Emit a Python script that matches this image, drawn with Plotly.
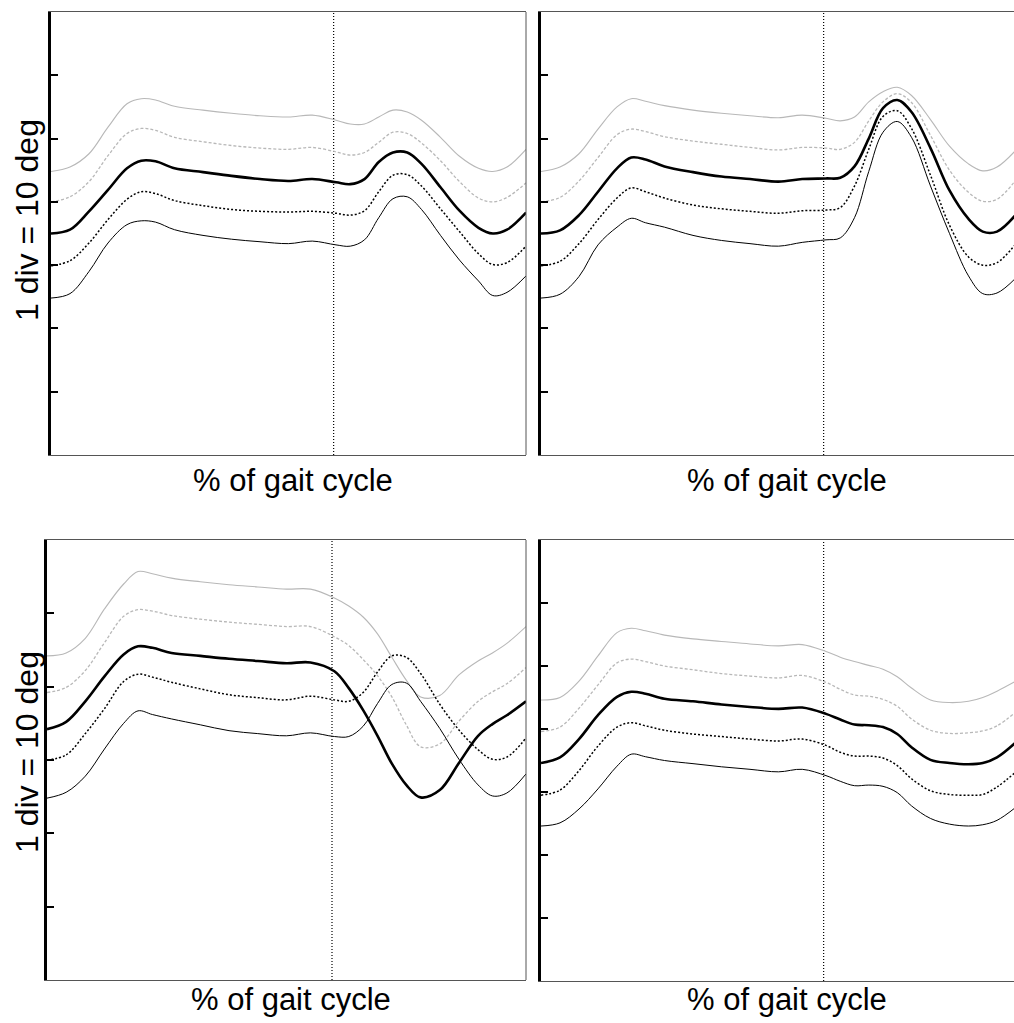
import plotly.graph_objects as go

# % of gait cycle sample points
gait_pct = [0, 4, 8, 12, 16, 19, 22, 26, 32, 38, 44, 50, 55, 60, 63, 66, 69, 72, 75, 78, 82, 86, 90, 93, 96, 100]
toe_off_pct = 59.5

# Panel 1 (top-left), degrees
p1_plus2sd = [44.8, 45.5, 47.6, 51.8, 55.5, 56.3, 56.1, 55.1, 54.5, 54.0, 53.6, 53.4, 53.7, 52.9, 52.3, 52.3, 53.4, 54.5, 54.2, 52.9, 50.2, 47.2, 45.3, 44.8, 45.5, 48.3]
p1_plus1sd = [40.0, 40.8, 43.2, 47.3, 50.8, 51.6, 51.3, 50.2, 49.5, 48.9, 48.5, 48.3, 48.6, 47.9, 47.4, 47.8, 49.4, 51.0, 50.8, 49.3, 46.5, 43.2, 40.6, 40.0, 40.7, 43.0]
p1_mean    = [35.0, 35.6, 38.5, 41.9, 45.3, 46.5, 46.4, 45.3, 44.7, 44.1, 43.6, 43.3, 43.6, 43.1, 42.8, 43.6, 46.3, 47.8, 47.8, 46.0, 42.3, 38.6, 35.9, 35.0, 35.6, 38.3]
p1_minus1sd = [29.9, 30.7, 33.5, 37.2, 40.4, 41.6, 41.3, 40.2, 39.4, 38.8, 38.5, 38.4, 38.5, 38.2, 37.9, 38.6, 41.6, 44.2, 44.3, 42.5, 38.9, 35.3, 31.8, 30.1, 30.4, 33.0]
p1_minus2sd = [24.8, 25.5, 29.0, 33.5, 36.4, 37.0, 36.8, 35.6, 34.7, 34.1, 33.7, 33.4, 33.8, 33.2, 33.0, 34.0, 37.5, 40.5, 40.8, 38.8, 34.7, 30.8, 27.5, 25.2, 25.7, 28.3]

# Panel 2 (top-right)
p2_plus2sd = [44.8, 45.5, 47.6, 51.5, 55.0, 56.3, 55.9, 55.2, 54.5, 54.0, 53.6, 53.3, 53.7, 53.2, 52.8, 53.4, 55.8, 57.4, 58.1, 56.8, 53.0, 48.8, 46.0, 44.9, 45.5, 48.2]
p2_plus1sd = [40.0, 40.7, 43.3, 47.0, 50.6, 51.5, 51.1, 50.3, 49.6, 49.1, 48.6, 48.2, 48.6, 48.5, 48.3, 49.4, 52.8, 55.8, 57.1, 55.7, 50.5, 45.0, 41.5, 40.1, 40.4, 43.5]
p2_mean    = [35.0, 35.5, 37.9, 41.6, 45.3, 47.0, 46.7, 45.6, 44.7, 44.0, 43.6, 43.2, 43.6, 43.7, 43.8, 45.6, 50.0, 54.8, 56.1, 54.2, 48.5, 41.8, 37.3, 35.3, 35.3, 38.0]
p2_minus1sd = [29.9, 30.6, 33.4, 37.2, 40.6, 42.2, 41.6, 40.6, 39.5, 38.9, 38.5, 38.2, 38.6, 38.7, 39.1, 42.5, 48.3, 53.5, 54.4, 51.6, 44.2, 36.3, 31.3, 30.0, 30.4, 33.4]
p2_minus2sd = [24.8, 25.4, 28.2, 33.2, 36.0, 37.4, 36.7, 36.0, 34.7, 33.9, 33.4, 33.0, 33.6, 34.0, 34.3, 37.5, 44.8, 51.0, 52.7, 50.2, 42.5, 35.0, 28.3, 25.5, 25.6, 28.0]

# Panel 3 (bottom-left)
p3_plus2sd = [44.2, 44.6, 46.6, 50.6, 54.0, 55.7, 55.4, 54.8, 54.3, 53.9, 53.6, 53.3, 53.3, 52.1, 51.0, 49.5, 47.2, 44.0, 40.9, 38.6, 38.8, 41.6, 43.5, 44.6, 45.9, 48.2]
p3_plus1sd = [39.2, 39.9, 42.2, 46.0, 49.6, 50.5, 50.3, 49.7, 49.2, 48.8, 48.5, 48.2, 48.2, 46.8, 45.6, 43.7, 41.5, 38.6, 34.8, 31.8, 32.2, 35.3, 38.0, 39.3, 40.4, 42.6]
p3_mean    = [34.2, 35.2, 38.0, 41.4, 44.4, 45.5, 45.3, 44.6, 44.2, 43.8, 43.5, 43.2, 43.3, 42.1, 39.8, 36.8, 33.3, 29.5, 26.6, 24.9, 25.9, 29.6, 33.3, 34.9, 36.1, 38.0]
p3_minus1sd = [30.0, 30.7, 33.6, 37.0, 40.7, 41.7, 41.3, 40.6, 39.7, 38.9, 38.5, 38.2, 38.7, 38.2, 38.0, 39.2, 42.0, 44.2, 44.0, 41.8, 37.6, 34.1, 31.4, 30.1, 30.4, 33.0]
p3_minus2sd = [24.8, 25.6, 27.8, 31.5, 35.0, 36.7, 36.2, 35.6, 34.8, 34.0, 33.6, 33.3, 33.7, 33.2, 33.2, 34.6, 37.7, 40.3, 40.5, 38.0, 34.3, 30.1, 26.6, 25.1, 25.5, 28.1]

# Panel 4 (bottom-right)
p4_plus2sd = [44.6, 45.0, 47.6, 51.6, 55.3, 56.0, 55.6, 54.9, 54.3, 53.9, 53.5, 53.2, 53.4, 52.3, 51.4, 50.7, 50.1, 49.5, 48.3, 46.5, 44.6, 44.2, 44.4, 45.0, 46.0, 47.6]
p4_plus1sd = [39.6, 40.3, 43.3, 47.0, 50.5, 51.1, 50.7, 50.0, 49.4, 48.8, 48.4, 48.1, 48.5, 47.4, 46.3, 45.4, 45.2, 44.7, 43.6, 41.6, 39.8, 39.3, 39.4, 39.7, 40.5, 42.7]
p4_mean    = [34.6, 35.5, 38.4, 42.2, 45.1, 45.9, 45.6, 44.8, 44.4, 43.9, 43.5, 43.2, 43.4, 42.4, 41.5, 40.7, 40.6, 40.3, 39.2, 37.1, 35.1, 34.6, 34.4, 34.6, 35.5, 37.9]
p4_minus1sd = [29.5, 30.3, 33.4, 37.3, 40.3, 41.0, 40.5, 39.8, 39.2, 38.8, 38.4, 38.1, 38.4, 37.4, 36.3, 35.7, 35.7, 35.4, 34.2, 32.1, 30.2, 29.6, 29.5, 29.6, 30.8, 33.2]
p4_minus2sd = [24.6, 25.1, 27.3, 30.5, 34.1, 36.0, 35.6, 35.0, 34.5, 34.0, 33.6, 33.2, 33.6, 32.6, 31.7, 31.0, 31.1, 30.9, 29.9, 27.8, 25.8, 24.9, 24.6, 24.8, 25.5, 27.6]

y_ranges = [70, 70, 60, 70]
x_label = "% of gait cycle"
y_label = "1 div = 10 deg"

W, H = 1014, 1023
# panel boxes in pixels: left, right, top, bottom
boxes = [(51, 526, 12, 455), (541, 1016, 12, 455), (47, 526, 540, 980), (541, 1016, 540, 981)]

panels = [
    (p1_plus2sd, p1_plus1sd, p1_mean, p1_minus1sd, p1_minus2sd),
    (p2_plus2sd, p2_plus1sd, p2_mean, p2_minus1sd, p2_minus2sd),
    (p3_plus2sd, p3_plus1sd, p3_mean, p3_minus1sd, p3_minus2sd),
    (p4_plus2sd, p4_plus1sd, p4_mean, p4_minus1sd, p4_minus2sd),
]

styles = [
    dict(color="#b8b8b8", width=1.1, dash="solid"),
    dict(color="#b8b8b8", width=1.3, dash="3px,2px"),
    dict(color="#000000", width=2.6, dash="solid"),
    dict(color="#000000", width=1.5, dash="2px,2px"),
    dict(color="#000000", width=1.0, dash="solid"),
]

fig = go.Figure()
layout = dict(width=W, height=H, margin=dict(l=0, r=0, t=0, b=0),
              paper_bgcolor="white", plot_bgcolor="white", showlegend=False,
              font=dict(family="Liberation Sans, Arial, sans-serif", color="black"))
shapes = []
annotations = []

for i, (series, box, yr) in enumerate(zip(panels, boxes, y_ranges)):
    n = "" if i == 0 else str(i + 1)
    xa, ya = "x" + n, "y" + n
    l, r, t, b = box
    x_hi = 100.0 * (min(r, W) - l) / (r - l)
    layout["xaxis" + n] = dict(domain=[l / W, min(r, W) / W], range=[0, x_hi], showline=True,
                               linecolor="#555555", linewidth=1, mirror=True, showticklabels=False,
                               ticks="", showgrid=False, zeroline=False, anchor=ya)
    layout["yaxis" + n] = dict(domain=[1 - b / H, 1 - t / H], range=[0, yr], showline=True,
                               linecolor="black", linewidth=2.5, ticks="inside", ticklen=7,
                               tickwidth=2, tickcolor="black", tick0=0, dtick=10,
                               showticklabels=False, showgrid=False, zeroline=False, anchor=xa)
    if r <= W:
        shapes.append(dict(type="line", xref=xa + " domain", yref=ya + " domain", x0=1, x1=1, y0=0, y1=1,
                           line=dict(color="#555555", width=1)))
    # toe-off line
    fig.add_trace(go.Scatter(x=[toe_off_pct, toe_off_pct], y=[0, yr], mode="lines",
                             line=dict(color="black", width=1.2, dash="1px,2px"),
                             xaxis=xa, yaxis=ya, hoverinfo="skip"))
    for s, st in zip(series, styles):
        fig.add_trace(go.Scatter(x=gait_pct, y=s, mode="lines", line=dict(shape="spline", smoothing=1.0, **st),
                                 xaxis=xa, yaxis=ya))

# axis labels
label_pos = [(293, 480), (787, 480), (291, 999), (787, 999)]
for (cx, cy) in label_pos:
    annotations.append(dict(text=x_label, x=cx / W, y=1 - cy / H, xref="paper", yref="paper",
                            xanchor="center", yanchor="middle", showarrow=False,
                            font=dict(size=31, family="Liberation Sans, Arial, sans-serif", color="black")))
for cy in (220, 752):
    annotations.append(dict(text=y_label, x=27 / W, y=1 - cy / H, xref="paper", yref="paper",
                            xanchor="center", yanchor="middle", textangle=-90, showarrow=False,
                            font=dict(size=32, family="Liberation Sans, Arial, sans-serif", color="black")))

layout["shapes"] = shapes
layout["annotations"] = annotations
fig.update_layout(**layout)
fig.write_html("out.html")
